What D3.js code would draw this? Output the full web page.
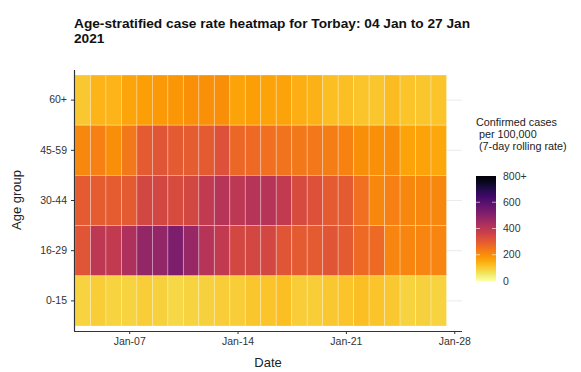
<!DOCTYPE html>
<html lang="en">
  <head>
    <meta charset="utf-8">
    <title>Torbay heatmap</title>
    <style>
      body { margin: 0; background: #fff; }
      text { font-family: "Liberation Sans", Arial, sans-serif; }
    </style>
  </head>
  <body>
    <svg></svg>
    <script src="https://d3js.org/d3.v7.min.js"></script>
    <script>
      // age groups, top to bottom
      var ageGroups = ["60+", "45-59", "30-44", "16-29", "0-15"];
      var startDate = "2021-01-04";
      // 7-day rolling rate per 100,000, one value per day 04 Jan .. 27 Jan
      var rate60 = [105, 135, 135, 160, 170, 180, 185, 195, 195, 200, 165, 170, 165, 165, 145, 140, 120, 120, 110, 108, 125, 110, 108, 112];
      var rate45 = [210, 225, 200, 240, 300, 310, 300, 295, 300, 320, 270, 265, 255, 250, 240, 240, 230, 220, 200, 195, 205, 165, 165, 155];
      var rate30 = [300, 295, 295, 300, 345, 345, 335, 345, 385, 410, 395, 410, 410, 385, 335, 320, 300, 300, 255, 210, 225, 210, 210, 210];
      var rate16 = [310, 395, 385, 430, 480, 480, 525, 470, 410, 385, 345, 345, 345, 310, 300, 300, 310, 300, 265, 265, 215, 215, 215, 215];
      var rate0 = [85, 95, 85, 85, 95, 90, 80, 85, 90, 95, 95, 108, 112, 120, 95, 95, 105, 112, 120, 112, 105, 85, 90, 85];
      var xTicks = ["2021-01-07", "2021-01-14", "2021-01-21", "2021-01-28"];
      var legendTicks = [0, 200, 400, 600, 800];

      var width = 581, height = 372;
      var svg = d3.select("svg").attr("width", width).attr("height", height);

      var parse = d3.utcParse("%Y-%m-%d");
      var day0 = parse(startDate);
      var series = [rate60, rate45, rate30, rate16, rate0];
      var cells = [];
      series.forEach(function(vals, gi) {
        vals.forEach(function(v, i) {
          cells.push({group: ageGroups[gi], date: d3.utcDay.offset(day0, i), value: v});
        });
      });

      var x = d3.scaleUtc()
        .domain([d3.utcHour.offset(day0, -12), d3.utcHour.offset(d3.utcDay.offset(day0, 24), 12)])
        .range([75, 462]);
      var y = d3.scaleBand().domain(ageGroups).range([75, 326]);
      var color = d3.scaleSequential(function(t) { return d3.interpolateInferno(1 - t); })
        .domain([0, 800]).clamp(true);

      // grid lines behind
      svg.append("g").selectAll("line")
        .data(ageGroups).enter().append("line")
        .attr("x1", 75).attr("x2", 462)
        .attr("y1", function(d) { return y(d) + y.bandwidth() / 2; })
        .attr("y2", function(d) { return y(d) + y.bandwidth() / 2; })
        .style("stroke", "#ebebeb").style("stroke-width", 1);

      var dayW = x(d3.utcDay.offset(day0, 1)) - x(day0);
      svg.append("g").selectAll("rect")
        .data(cells).enter().append("rect")
        .attr("x", function(d) { return x(d.date) - dayW / 2; })
        .attr("y", function(d) { return y(d.group); })
        .attr("width", dayW)
        .attr("height", y.bandwidth())
        .style("fill", function(d) { return color(d.value); })
        .style("stroke", "rgba(255,255,255,0.35)")
        .style("stroke-width", 0.8);

      // axes
      var xAxis = d3.axisBottom(x)
        .tickValues(xTicks.map(parse))
        .tickFormat(d3.utcFormat("%b-%d"))
        .tickSize(3).tickPadding(4);
      var gx = svg.append("g").attr("transform", "translate(0,331)").call(xAxis);
      gx.select(".domain").attr("d", "M74,0.5H462").style("stroke", "#333").style("stroke-width", 1.2);
      gx.selectAll(".tick line").style("stroke", "#333");
      gx.selectAll("text").style("font-size", "10.5px").style("fill", "#333");

      var yAxis = d3.axisLeft(y).tickSize(3).tickPadding(4);
      var gy = svg.append("g").attr("transform", "translate(74,0)").call(yAxis);
      gy.select(".domain").attr("d", "M0.5,70V331").style("stroke", "#333").style("stroke-width", 1.2);
      gy.selectAll(".tick line").style("stroke", "#333");
      gy.selectAll("text").style("font-size", "10.5px").style("fill", "#333");

      // titles
      var title = svg.append("text").attr("x", 74).attr("y", 28)
        .style("font-size", "13.7px").style("font-weight", "bold").style("fill", "#111");
      title.append("tspan").attr("x", 74).attr("dy", 0).text("Age-stratified case rate heatmap for Torbay: 04 Jan to 27 Jan");
      title.append("tspan").attr("x", 74).attr("dy", 15).text("2021");

      svg.append("text").attr("x", 268).attr("y", 367)
        .attr("text-anchor", "middle").style("font-size", "13px").style("fill", "#222").text("Date");
      svg.append("text").attr("transform", "translate(21,200) rotate(-90)")
        .attr("text-anchor", "middle").style("font-size", "13px").style("fill", "#222").text("Age group");

      // legend
      var legTitle = ["Confirmed cases", " per 100,000", " (7-day rolling rate)"];
      svg.append("g").selectAll("text").data(legTitle).enter().append("text")
        .attr("x", 476).attr("y", function(d, i) { return 126 + i * 12; })
        .attr("xml:space", "preserve")
        .style("font-size", "10.8px").style("fill", "#222")
        .text(function(d) { return d; });

      var ly = d3.scaleLinear().domain([0, 800]).range([281, 176]);
      var grad = svg.append("defs").append("linearGradient")
        .attr("id", "leg").attr("x1", 0).attr("x2", 0).attr("y1", 1).attr("y2", 0);
      d3.range(0, 1.001, 0.05).forEach(function(t) {
        grad.append("stop").attr("offset", t).attr("stop-color", color(t * 800));
      });
      svg.append("rect").attr("x", 476).attr("y", ly(800)).attr("width", 20)
        .attr("height", ly(0) - ly(800)).style("fill", "url(#leg)");
      var lg = svg.append("g");
      lg.selectAll("line.l").data(legendTicks.slice(1, 4)).enter().append("line")
        .attr("x1", 476).attr("x2", 480)
        .attr("y1", function(d) { return ly(d); }).attr("y2", function(d) { return ly(d); })
        .style("stroke", "rgba(255,255,255,0.6)");
      lg.selectAll("line.r").data(legendTicks.slice(1, 4)).enter().append("line")
        .attr("x1", 492).attr("x2", 496)
        .attr("y1", function(d) { return ly(d); }).attr("y2", function(d) { return ly(d); })
        .style("stroke", "rgba(255,255,255,0.6)");
      lg.selectAll("text").data(legendTicks).enter().append("text")
        .attr("x", 503).attr("y", function(d) { return ly(d) + 3.5; })
        .style("font-size", "10.5px").style("fill", "#333")
        .text(function(d) { return d === 800 ? "800+" : d; });
    </script>
  </body>
</html>
